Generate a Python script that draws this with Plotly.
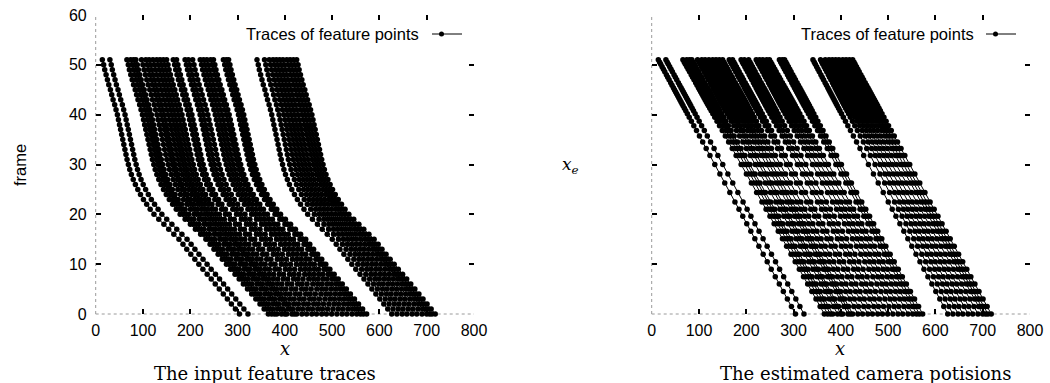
import plotly.graph_objects as go

W, H = 1050, 383

# ---- data ----
frames = list(range(52))
# estimated camera position for each frame (right panel vertical value)
camera_pos = [0.0, 1.5, 3.0, 4.5, 6.0, 7.5, 9.0, 10.5, 12.0, 13.6, 15.1, 16.6, 18.1, 19.6, 21.0, 22.5,
              24.4, 26.3, 28.1, 30.0, 31.8,
              33.2, 34.5, 35.7, 36.8, 37.8, 38.7, 39.5, 40.2, 40.8, 41.3,
              41.8, 42.2, 42.6, 43.0, 43.4, 43.8, 44.2, 44.6, 45.0, 45.4,
              45.9, 46.4, 47.0, 47.5, 48.0, 48.6, 49.1, 49.6, 50.1, 50.5, 51.0]
# x of every feature point at the last frame (51) and at the first frame (0)
x_last = [14, 30,
          66, 74, 80, 85, 97, 106, 113, 121, 129, 136, 143, 150, 164, 171, 189, 196, 205, 221, 228, 235, 243, 249, 270, 276, 281,
          341, 357, 367, 375, 382, 389, 396, 404, 411, 418, 425]
x_first = [304, 322,
           365, 372, 378, 383, 393, 400, 404, 415, 420, 425, 436, 446, 457, 467, 478, 488, 499, 510, 521, 531, 542, 552, 560, 566, 573,
           626, 637, 648, 658, 669, 679, 690, 700, 706, 711, 718]
x_ticks = [0, 100, 200, 300, 400, 500, 600, 700, 800]
y_ticks = [0, 10, 20, 30, 40, 50, 60]
legend_label = "Traces of feature points"

# ---- layout geometry (pixels -> paper) ----
def px(x):
    return x / W

def py(y):
    return 1 - y / H

L_DOM = [px(95.7), px(474)]
R_DOM = [px(651.7), px(1030)]
Y_DOM = [py(314), py(15)]

fig = go.Figure()

span = camera_pos[-1]
for xs, xf in zip(x_last, x_first):
    xv = [xf + (xs - xf) * c / span for c in camera_pos]
    common = dict(mode="lines+markers", line=dict(color="black", width=1),
                  marker=dict(color="black", size=5.5, symbol="circle"),
                  showlegend=False, cliponaxis=False, hoverinfo="skip")
    fig.add_trace(go.Scatter(x=xv, y=frames, xaxis="x", yaxis="y", **common))
    fig.add_trace(go.Scatter(x=xv, y=camera_pos, xaxis="x2", yaxis="y2", **common))

tickfont = dict(family="Liberation Sans, Arial, sans-serif", size=16, color="black")
axcommon = dict(ticks="inside", ticklen=5, tickwidth=1.5, tickcolor="black", mirror="ticks",
                showline=False, showgrid=False, zeroline=False, tickfont=tickfont, automargin=False)

fig.update_layout(
    width=W, height=H, margin=dict(l=0, r=0, t=0, b=0, pad=0, autoexpand=False),
    showlegend=False,
    paper_bgcolor="white", plot_bgcolor="white",
    xaxis=dict(domain=L_DOM, range=[0, 800], tickvals=x_ticks, anchor="y", ticklabelstandoff=5, **axcommon),
    yaxis=dict(domain=Y_DOM, range=[0, 60], tickvals=y_ticks, anchor="x", ticklabelstandoff=8, **axcommon),
    xaxis2=dict(domain=R_DOM, range=[0, 800], tickvals=x_ticks, anchor="y2", ticklabelstandoff=5, **axcommon),
    yaxis2=dict(domain=Y_DOM, range=[0, 60], tickvals=y_ticks, anchor="x2", showticklabels=False, **axcommon),
)

# dotted left / bottom borders
shapes = []
for xr, yr in (("x", "y"), ("x2", "y2")):
    shapes.append(dict(type="line", xref=f"{xr} domain", yref=f"{yr} domain", x0=0, x1=0, y0=0, y1=1,
                       line=dict(color="#9a9a9a", width=1, dash="dot"), layer="below"))
    shapes.append(dict(type="line", xref=f"{xr} domain", yref=f"{yr} domain", x0=0, x1=1, y0=0, y1=0,
                       line=dict(color="#9a9a9a", width=1, dash="dot"), layer="below"))

annotations = []
serif = "DejaVu Serif, Liberation Serif, serif"
sans = "Liberation Sans, Arial, sans-serif"

def ann(text, x, y, font, xanchor="center", angle=0):
    return dict(text=text, x=px(x), y=py(y), xref="paper", yref="paper", xanchor=xanchor,
                yanchor="middle", showarrow=False, textangle=angle, font=font)

# legends (gnuplot style: text then sample)
for text_right, sample_l in ((421, 432), (976, 986)):
    annotations.append(ann(legend_label, text_right, 34, dict(family=sans, size=16.5, color="black"), xanchor="right"))
    shapes.append(dict(type="line", xref="paper", yref="paper", x0=px(sample_l), x1=px(sample_l + 30),
                       y0=py(34), y1=py(34), line=dict(color="black", width=1)))
    shapes.append(dict(type="circle", xref="paper", yref="paper", x0=px(sample_l + 7), x1=px(sample_l + 12),
                       y0=py(36.5), y1=py(31.5), fillcolor="black", line=dict(color="black", width=0)))

# axis titles
annotations.append(ann("frame", 20, 165, dict(family=sans, size=16.5, color="black"), angle=-90))
annotations.append(ann("<i>x</i>", 285, 348, dict(family=serif, size=18, color="black")))
annotations.append(ann("<i>x</i>", 840, 348, dict(family=serif, size=18, color="black")))
annotations.append(ann("<i>x<sub>e</sub></i>", 570, 165, dict(family=serif, size=17, color="black")))
# captions
annotations.append(ann("The input feature traces", 265, 373, dict(family=serif, size=18, color="black")))
annotations.append(ann("The estimated camera potisions", 865, 373, dict(family=serif, size=18, color="black")))

fig.update_layout(shapes=shapes, annotations=annotations)
fig.write_html("out.html")
